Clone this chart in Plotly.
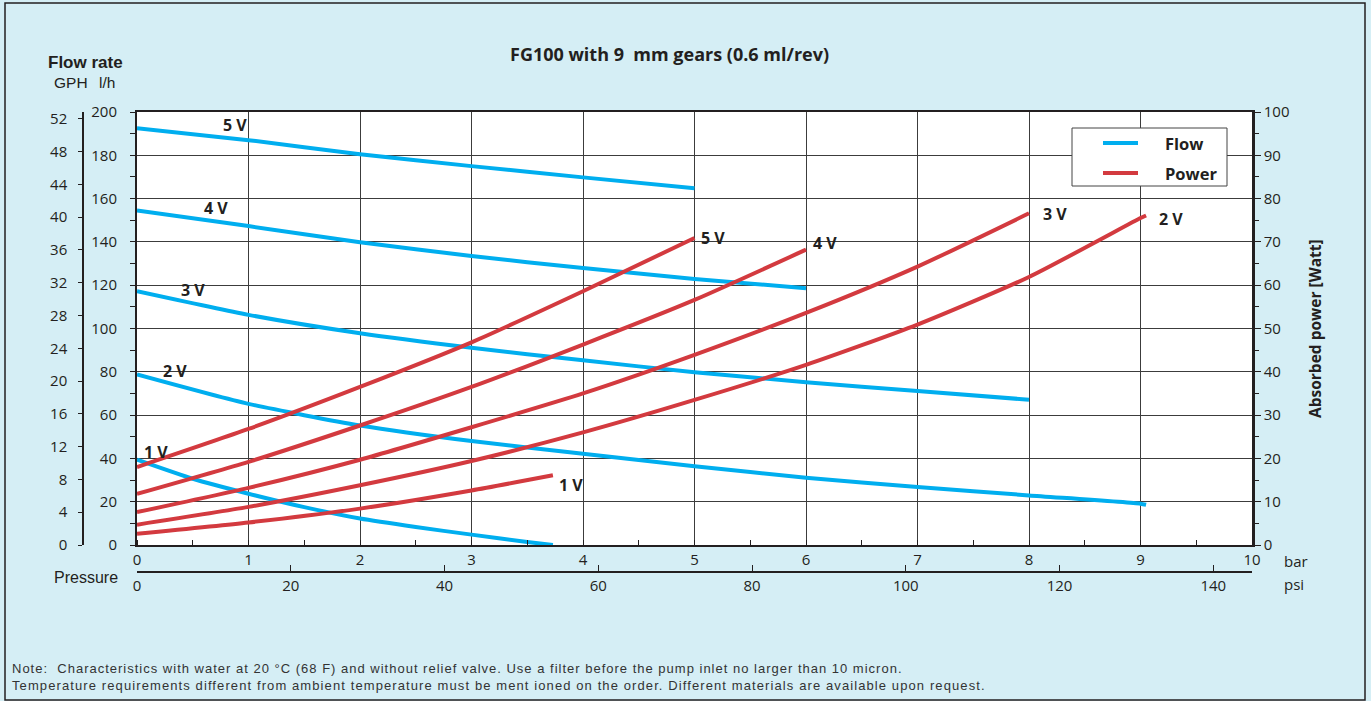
import plotly.graph_objects as go

# ---------------- data ----------------
BAR_TO_PSI = 14.5038
LH_PER_GPH = 3.78541

pressure_5v = [0, 1, 2, 3, 4, 5]
flow_5v = [192.5, 187.0, 180.5, 175.0, 169.8, 164.8]
power_5v = [18.0, 26.8, 36.5, 46.8, 58.6, 70.9]

pressure_4v = [0, 1, 2, 3, 4, 5, 6]
flow_4v = [154.5, 147.3, 139.8, 133.5, 127.9, 122.9, 118.6]
power_4v = [11.8, 19.2, 27.6, 36.5, 46.3, 56.6, 68.2]

pressure_3v = [0, 1, 2, 3, 4, 5, 6, 7, 8]
flow_3v = [117.2, 106.3, 97.8, 91.1, 85.3, 79.8, 75.2, 71.1, 67.1]
power_3v = [7.6, 13.2, 19.7, 27.2, 35.0, 43.9, 53.6, 64.3, 76.6]

pressure_2v = [0, 1, 2, 3, 4, 5, 6, 7, 8, 9, 9.05]
flow_2v = [78.8, 65.2, 55.2, 48.0, 42.2, 36.4, 31.1, 26.8, 22.9, 19.1, 18.6]
power_2v = [4.7, 8.8, 13.8, 19.4, 26.0, 33.5, 41.6, 50.9, 61.9, 75.5, 76.1]

pressure_1v_flow = [0, 0.5, 1, 1.5, 2, 2.5, 3, 3.5, 3.73]
flow_1v = [39.4, 30.6, 23.7, 17.5, 12.2, 8.3, 4.8, 1.4, 0.0]
pressure_1v_power = [0, 1, 2, 3, 3.73]
power_1v = [2.6, 5.2, 8.4, 12.6, 16.1]

bar_ticks = [0, 1, 2, 3, 4, 5, 6, 7, 8, 9, 10]
psi_ticks = [0, 20, 40, 60, 80, 100, 120, 140]
lh_ticks = [0, 20, 40, 60, 80, 100, 120, 140, 160, 180, 200]
gph_ticks = [0, 4, 8, 12, 16, 20, 24, 28, 32, 36, 40, 44, 48, 52]
watt_ticks = [0, 10, 20, 30, 40, 50, 60, 70, 80, 90, 100]

flow_series = [
    ("5 V", pressure_5v, flow_5v),
    ("4 V", pressure_4v, flow_4v),
    ("3 V", pressure_3v, flow_3v),
    ("2 V", pressure_2v, flow_2v),
    ("1 V", pressure_1v_flow, flow_1v),
]
power_series = [
    ("5 V", pressure_5v, power_5v),
    ("4 V", pressure_4v, power_4v),
    ("3 V", pressure_3v, power_3v),
    ("2 V", pressure_2v, power_2v),
    ("1 V", pressure_1v_power, power_1v),
]

# ---------------- styling ----------------
BLUE = "#00aeef"
RED = "#d33a3f"
INK = "#231f20"
GRID = "#3c3c3c"
BG = "#d5eef5"
TICKFONT = dict(family="Open Sans", size=15, color=INK)

W, H = 1371, 701
ML, MR, MT, MB = 40, 119, 112, 100
PW, PH = W - ML - MR, H - MT - MB


def px2p(px):
    return (px - ML) / PW


def py2p(py):
    return (H - MB - py) / PH


fig = go.Figure()

for name, p, f in flow_series:
    fig.add_trace(go.Scatter(
        x=p, y=f, mode="lines", name="Flow " + name,
        line=dict(color=BLUE, width=4, shape="spline", smoothing=0.6),
        xaxis="x", yaxis="y", showlegend=False))

for name, p, w in power_series:
    fig.add_trace(go.Scatter(
        x=p, y=w, mode="lines", name="Power " + name,
        line=dict(color=RED, width=4, shape="spline", smoothing=0.6),
        xaxis="x", yaxis="y2", showlegend=False))

# same flow curves in psi / GPH units, invisible, so the secondary axes are bound to data
fig.add_trace(go.Scatter(
    x=[v * BAR_TO_PSI for v in pressure_5v], y=[v / LH_PER_GPH for v in flow_5v],
    mode="lines", opacity=0, hoverinfo="skip", showlegend=False,
    xaxis="x2", yaxis="y3"))

x0 = px2p(137)
y0 = py2p(545)

fig.update_layout(
    width=W, height=H, autosize=False,
    margin=dict(l=ML, r=MR, t=MT, b=MB, pad=0),
    paper_bgcolor=BG, plot_bgcolor="white",
    showlegend=False,
    xaxis=dict(
        domain=[x0, 1], range=[0, 10], tickvals=bar_ticks,
        showgrid=True, gridcolor=GRID, gridwidth=1, zeroline=False,
        showline=True, linecolor=INK, linewidth=2, mirror=True,
        ticks="", ticklabelstandoff=0, tickfont=TICKFONT,
        minor=dict(dtick=0.5, tick0=0, ticks="inside", ticklen=5, tickcolor=INK, tickwidth=1, showgrid=False),
    ),
    xaxis2=dict(
        overlaying="x", anchor="free", position=py2p(572), side="bottom",
        range=[0, 10 * BAR_TO_PSI], tickvals=psi_ticks,
        showgrid=False, zeroline=False, showline=True, linecolor=INK, linewidth=1.5,
        ticks="inside", ticklen=6, tickcolor=INK, tickwidth=1,
        ticklabelstandoff=0, tickfont=TICKFONT,
    ),
    yaxis=dict(
        domain=[y0, 1], range=[0, 200], tickvals=lh_ticks,
        showgrid=True, gridcolor=GRID, gridwidth=1, zeroline=False,
        showline=True, linecolor=INK, linewidth=2,
        ticks="outside", ticklen=5, tickcolor=INK, tickwidth=1,
        ticklabelstandoff=10, tickfont=TICKFONT,
        minor=dict(dtick=10, tick0=0, ticks="outside", ticklen=5, tickcolor=INK, tickwidth=1, showgrid=False),
    ),
    yaxis2=dict(
        overlaying="y", side="right", range=[0, 100], tickvals=watt_ticks,
        showgrid=False, zeroline=False, showline=True, linecolor=INK, linewidth=2.5,
        ticks="outside", ticklen=6, tickcolor=INK, tickwidth=1,
        ticklabelstandoff=0, tickfont=TICKFONT,
        minor=dict(dtick=5, tick0=0, ticks="outside", ticklen=4, tickcolor=INK, tickwidth=1, showgrid=False),
    ),
    yaxis3=dict(
        overlaying="y", anchor="free", position=px2p(83), side="left",
        range=[0, 200 / LH_PER_GPH], tickvals=gph_ticks,
        showgrid=False, zeroline=False, showline=True, linecolor=INK, linewidth=1.5,
        ticks="outside", ticklen=4, tickcolor=INK, tickwidth=1,
        ticklabelstandoff=8, tickfont=TICKFONT,
    ),
)

shapes = []
# outer frame
shapes.append(dict(type="rect", xref="paper", yref="paper",
                   x0=px2p(5), x1=px2p(1365), y0=py2p(700), y1=py2p(3),
                   line=dict(color=INK, width=1.5), fillcolor="rgba(0,0,0,0)", layer="below"))
# legend box
shapes.append(dict(type="rect", xref="paper", yref="paper",
                   x0=px2p(1072), x1=px2p(1227), y0=py2p(186), y1=py2p(128),
                   line=dict(color="#444", width=1), fillcolor="white", layer="above"))
shapes.append(dict(type="line", xref="paper", yref="paper",
                   x0=px2p(1103), x1=px2p(1138), y0=py2p(143), y1=py2p(143),
                   line=dict(color=BLUE, width=4), layer="above"))
shapes.append(dict(type="line", xref="paper", yref="paper",
                   x0=px2p(1103), x1=px2p(1138), y0=py2p(173), y1=py2p(173),
                   line=dict(color=RED, width=4), layer="above"))
fig.update_layout(shapes=shapes)

ann = []


def paper_text(text, px, py, size, family="Open Sans", bold=False, xanchor="center", color=INK, angle=0):
    ann.append(dict(text=("<b>%s</b>" % text) if bold else text, xref="paper", yref="paper",
                    x=px2p(px), y=py2p(py), xanchor=xanchor, yanchor="middle",
                    showarrow=False, textangle=angle,
                    font=dict(family=family, size=size, color=color)))


paper_text("FG100 with 9\u00a0 mm gears (0.6 ml/rev)", 669, 54, 18, bold=True)
paper_text("Flow rate", 85, 62, 17, family="Liberation Sans", bold=True)
paper_text("GPH", 71, 83, 15.5, family="Liberation Sans")
paper_text("l/h", 107, 83, 15.5, family="Liberation Sans")
paper_text("Pressure", 86, 577, 16, family="Liberation Sans")
paper_text("bar", 1282, 561, 15, xanchor="left")
paper_text("psi", 1282, 584, 15, xanchor="left")
paper_text("Absorbed power [Watt]", 1315, 329, 15.5, bold=True, angle=-90)
paper_text("Flow", 1163, 143, 16.5, bold=True, xanchor="left")
paper_text("Power", 1163, 173, 16.5, bold=True, xanchor="left")
paper_text("<span style='letter-spacing:1px'>Note:\u00a0 Characteristics with water at 20 °C (68 F) and without relief valve. "
           "Use a filter before the pump inlet no larger than 10 micron.</span><br>"
           "<span style='letter-spacing:1.1px'>Temperature requirements different from ambient temperature must be ment ioned on the order. "
           "Different materials are available upon request.</span>",
           10, 676.5, 13, family="Liberation Sans", xanchor="left", color="#333333")
ann[-1]["align"] = "left"

# curve labels, in data coordinates (bar, l/h)
flow_label_pos = [(0.879, 194.0), (0.709, 155.7), (0.502, 117.8), (0.341, 80.4), (0.170, 43.0)]
power_label_pos = [(5.166, 141.8), (6.170, 139.5), (8.233, 152.9), (9.274, 150.6), (3.892, 27.7)]
for (name, _, _), (lx, ly) in zip(flow_series, flow_label_pos):
    ann.append(dict(text="<b>%s</b>" % name, x=lx, y=ly, xref="x", yref="y", showarrow=False,
                    font=dict(family="Open Sans", size=16, color=INK)))
for (name, _, _), (lx, ly) in zip(power_series, power_label_pos):
    ann.append(dict(text="<b>%s</b>" % name, x=lx, y=ly, xref="x", yref="y", showarrow=False,
                    font=dict(family="Open Sans", size=16, color=INK)))

fig.update_layout(annotations=ann)

fig.write_html("out.html", config={"displayModeBar": False},
               post_script="document.body.style.margin='0';")
